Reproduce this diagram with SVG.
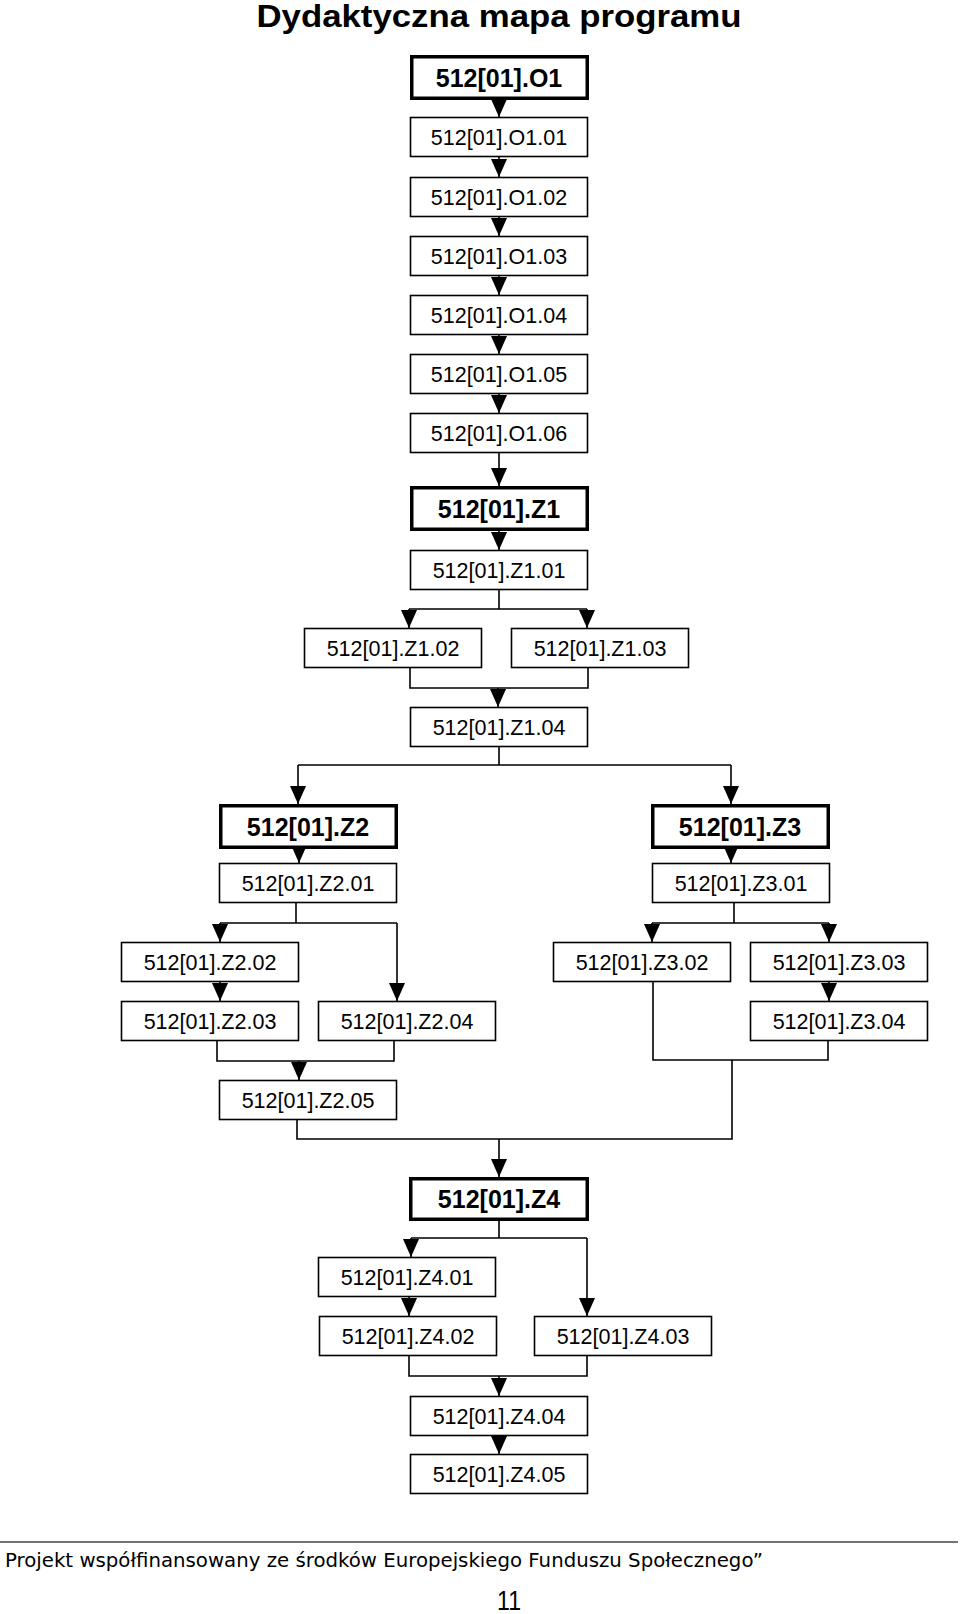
<svg xmlns="http://www.w3.org/2000/svg" width="960" height="1614" viewBox="0 0 960 1614">
<defs>
<marker id="ah" viewBox="0 0 18 16" refX="18" refY="8" markerWidth="18" markerHeight="16" markerUnits="userSpaceOnUse" orient="auto">
<path d="M0,0 L18,8 L0,16 z" fill="#000"/>
</marker>
<style>
.b{fill:#fff;stroke:#000;stroke-width:1.6}
.bb{fill:#fff;stroke:#000;stroke-width:3.5}
.t{font-family:"Liberation Sans",Arial,sans-serif;font-size:21.5px;text-anchor:middle;fill:#000}
.tb{font-family:"Liberation Sans",Arial,sans-serif;font-size:25px;font-weight:bold;text-anchor:middle;fill:#000}
.c{fill:none;stroke:#000;stroke-width:1.6}
.a{fill:none;stroke:#000;stroke-width:1.6;marker-end:url(#ah)}
</style>
</defs>
<rect width="960" height="1614" fill="#fff"/>
<text x="499" y="27" font-family="'Liberation Sans',Arial,sans-serif" font-size="32" font-weight="bold" text-anchor="middle" textLength="485" lengthAdjust="spacingAndGlyphs">Dydaktyczna mapa programu</text>

<g id="connectors">
<path class="a" d="M499,100 V117"/>
<path class="a" d="M499,157 V177"/>
<path class="a" d="M499,217 V236"/>
<path class="a" d="M499,276 V295"/>
<path class="a" d="M499,335 V354"/>
<path class="a" d="M499,394 V413"/>
<path class="a" d="M499,452 V486"/>
<path class="a" d="M499,530 V550"/>
<path class="c" d="M499,590 V609 M409,609 H587"/>
<path class="a" d="M409,609 V628"/>
<path class="a" d="M587,609 V628"/>
<path class="c" d="M410,668 V688 H588 V668"/>
<path class="a" d="M498,688 V707"/>
<path class="c" d="M499,747 V765 M298,765 H731"/>
<path class="a" d="M298,765 V804"/>
<path class="a" d="M731,765 V804"/>
<path class="a" d="M299,848 V863"/>
<path class="c" d="M296,903 V923 M220,923 H397"/>
<path class="a" d="M220,923 V942"/>
<path class="a" d="M397,923 V1001"/>
<path class="a" d="M220,982 V1001"/>
<path class="c" d="M217,1041 V1061 H394 V1041"/>
<path class="a" d="M299,1061 V1080"/>
<path class="c" d="M297,1120 V1139 H732 V1060"/>
<path class="a" d="M731,848 V863"/>
<path class="c" d="M734,903 V923 M652,923 H829"/>
<path class="a" d="M652,923 V942"/>
<path class="a" d="M829,923 V942"/>
<path class="a" d="M829,982 V1001"/>
<path class="c" d="M653,982 V1060 H828 V1041"/>
<path class="a" d="M499,1139 V1177"/>
<path class="c" d="M499,1220 V1238 M411,1238 H587"/>
<path class="a" d="M411,1238 V1257"/>
<path class="a" d="M587,1238 V1316"/>
<path class="a" d="M409,1297 V1316"/>
<path class="c" d="M409,1356 V1376 H587 V1356"/>
<path class="a" d="M499,1376 V1396"/>
<path class="a" d="M499,1435 V1454"/>
</g>

<g id="O1"><rect class="bb" x="411.75" y="56.75" width="175.5" height="41.5"/><text class="tb" x="499" y="87">512[01].O1</text></g>
<g id="O1.01"><rect class="b" x="410.5" y="117.5" width="177" height="39"/><text class="t" x="499" y="145">512[01].O1.01</text></g>
<g id="O1.02"><rect class="b" x="410.5" y="177.5" width="177" height="39"/><text class="t" x="499" y="205">512[01].O1.02</text></g>
<g id="O1.03"><rect class="b" x="410.5" y="236.5" width="177" height="39"/><text class="t" x="499" y="264">512[01].O1.03</text></g>
<g id="O1.04"><rect class="b" x="410.5" y="295.5" width="177" height="39"/><text class="t" x="499" y="323">512[01].O1.04</text></g>
<g id="O1.05"><rect class="b" x="410.5" y="354.5" width="177" height="39"/><text class="t" x="499" y="382">512[01].O1.05</text></g>
<g id="O1.06"><rect class="b" x="410.5" y="413.5" width="177" height="39"/><text class="t" x="499" y="441">512[01].O1.06</text></g>

<g id="Z1"><rect class="bb" x="411.75" y="487.75" width="175.5" height="41.5"/><text class="tb" x="499" y="518">512[01].Z1</text></g>
<g id="Z1.01"><rect class="b" x="410.5" y="550.5" width="177" height="39"/><text class="t" x="499" y="578">512[01].Z1.01</text></g>
<g id="Z1.02"><rect class="b" x="304.5" y="628.5" width="177" height="39"/><text class="t" x="393" y="656">512[01].Z1.02</text></g>
<g id="Z1.03"><rect class="b" x="511.5" y="628.5" width="177" height="39"/><text class="t" x="600" y="656">512[01].Z1.03</text></g>
<g id="Z1.04"><rect class="b" x="410.5" y="707.5" width="177" height="39"/><text class="t" x="499" y="735">512[01].Z1.04</text></g>

<g id="Z2"><rect class="bb" x="220.75" y="805.75" width="175.5" height="41.5"/><text class="tb" x="308" y="836">512[01].Z2</text></g>
<g id="Z2.01"><rect class="b" x="219.5" y="863.5" width="177" height="39"/><text class="t" x="308" y="891">512[01].Z2.01</text></g>
<g id="Z2.02"><rect class="b" x="121.5" y="942.5" width="177" height="39"/><text class="t" x="210" y="970">512[01].Z2.02</text></g>
<g id="Z2.03"><rect class="b" x="121.5" y="1001.5" width="177" height="39"/><text class="t" x="210" y="1029">512[01].Z2.03</text></g>
<g id="Z2.04"><rect class="b" x="318.5" y="1001.5" width="177" height="39"/><text class="t" x="407" y="1029">512[01].Z2.04</text></g>
<g id="Z2.05"><rect class="b" x="219.5" y="1080.5" width="177" height="39"/><text class="t" x="308" y="1108">512[01].Z2.05</text></g>

<g id="Z3"><rect class="bb" x="652.75" y="805.75" width="175.5" height="41.5"/><text class="tb" x="740" y="836">512[01].Z3</text></g>
<g id="Z3.01"><rect class="b" x="652.5" y="863.5" width="177" height="39"/><text class="t" x="741" y="891">512[01].Z3.01</text></g>
<g id="Z3.02"><rect class="b" x="553.5" y="942.5" width="177" height="39"/><text class="t" x="642" y="970">512[01].Z3.02</text></g>
<g id="Z3.03"><rect class="b" x="750.5" y="942.5" width="177" height="39"/><text class="t" x="839" y="970">512[01].Z3.03</text></g>
<g id="Z3.04"><rect class="b" x="750.5" y="1001.5" width="177" height="39"/><text class="t" x="839" y="1029">512[01].Z3.04</text></g>

<g id="Z4"><rect class="bb" x="410.75" y="1178.75" width="176.5" height="40.5"/><text class="tb" x="499" y="1208">512[01].Z4</text></g>
<g id="Z4.01"><rect class="b" x="318.5" y="1257.5" width="177" height="39"/><text class="t" x="407" y="1285">512[01].Z4.01</text></g>
<g id="Z4.02"><rect class="b" x="319.5" y="1316.5" width="177" height="39"/><text class="t" x="408" y="1344">512[01].Z4.02</text></g>
<g id="Z4.03"><rect class="b" x="534.5" y="1316.5" width="177" height="39"/><text class="t" x="623" y="1344">512[01].Z4.03</text></g>
<g id="Z4.04"><rect class="b" x="410.5" y="1396.5" width="177" height="39"/><text class="t" x="499" y="1424">512[01].Z4.04</text></g>
<g id="Z4.05"><rect class="b" x="410.5" y="1454.5" width="177" height="39"/><text class="t" x="499" y="1482">512[01].Z4.05</text></g>

<line x1="0" y1="1542" x2="958" y2="1542" stroke="#444" stroke-width="1.3"/>
<text x="5" y="1567" font-family="'DejaVu Sans',Verdana,sans-serif" font-size="19" textLength="758" lengthAdjust="spacingAndGlyphs">Projekt współfinansowany ze środków Europejskiego Funduszu Społecznego”</text>
<text x="497" y="1610" font-family="'Liberation Sans',Arial,sans-serif" font-size="28" textLength="24" lengthAdjust="spacingAndGlyphs">11</text>
</svg>
